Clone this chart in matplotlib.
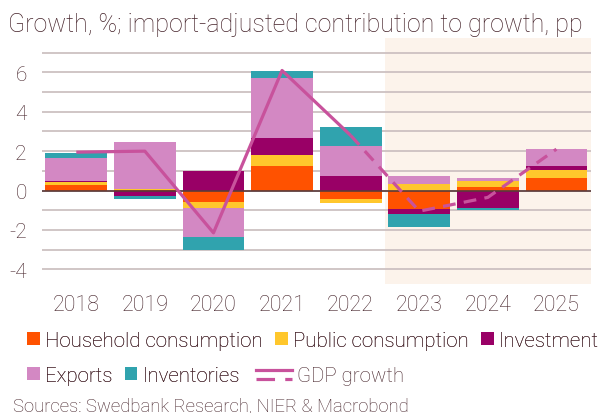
import matplotlib
matplotlib.use("Agg")
import matplotlib.pyplot as plt
import numpy as np
from matplotlib.patches import Patch
from matplotlib.lines import Line2D
from matplotlib.legend_handler import HandlerBase

plt.rcParams['font.family'] = ['Roboto', 'DejaVu Sans']
plt.rcParams['font.weight'] = 'light'

years = ['2018', '2019', '2020', '2021', '2022', '2023', '2024', '2025']
household = [0.30, 0.05, -0.60, 1.27, -0.42, -0.93, 0.20, 0.63]
public = [0.13, 0.03, -0.30, 0.56, -0.22, 0.34, 0.28, 0.39]
investment = [0.05, -0.30, 1.00, 0.84, 0.75, -0.27, -0.88, 0.22]
exports = [1.18, 2.37, -1.45, 3.03, 1.50, 0.42, 0.16, 0.88]
inventories = [0.25, -0.15, -0.68, 0.38, 1.00, -0.63, -0.13, 0.00]
gdp = [1.95, 2.0, -2.15, 6.1, 2.8, -1.05, -0.35, 2.1]

series = [
    ('Household consumption', household, '#FF5200'),
    ('Public consumption', public, '#FFC72C'),
    ('Investment', investment, '#990066'),
    ('Exports', exports, '#D388C3'),
    ('Inventories', inventories, '#30A3AE'),
]
gdp_color = '#C8529C'
txt = '#45232a'

fig = plt.figure(figsize=(6.0, 4.14), dpi=100)
ax = fig.add_axes([0.07, 0.3116, 0.9145, 0.5942])

x = np.arange(len(years))
ax.axvspan(4.5, 7.5, color='#FCF3EB', zorder=0, lw=0)
for v in range(-4, 8):
    ax.axhline(v, color='#CDC1C1', lw=1.3, zorder=1)

pos_base = np.zeros(len(years))
neg_base = np.zeros(len(years))
for name, vals, col in series:
    vals = np.array(vals)
    bottoms = np.where(vals >= 0, pos_base, neg_base)
    ax.bar(x, vals, width=0.9, bottom=bottoms, color=col, edgecolor='none', zorder=2)
    pos_base = pos_base + np.where(vals >= 0, vals, 0)
    neg_base = neg_base + np.where(vals < 0, vals, 0)

ax.axhline(0, color='#5a3a3a', lw=1.2, zorder=3)

ax.plot(x[:5], gdp[:5], color=gdp_color, lw=2.3, zorder=4, solid_capstyle='butt')
ax.plot(x[4:], gdp[4:], color=gdp_color, lw=2.3, zorder=4, dashes=(4, 2.6))

ax.set_xlim(-0.5, 7.5)
ax.set_ylim(-4.75, 7.75)
ax.set_yticks(range(-4, 7, 2))
ax.set_yticklabels([str(v) for v in range(-4, 7, 2)])
ax.set_xticks(x)
ax.set_xticklabels(years)
ax.tick_params(axis='both', length=0, labelcolor=txt)
ax.tick_params(axis='y', pad=11, labelsize=15)
ax.tick_params(axis='x', pad=7, labelsize=15.5)
for s in ax.spines.values():
    s.set_visible(False)

fig.text(0.013, 0.922, 'Growth, %; import-adjusted contribution to growth, pp',
         fontsize=18, color=txt, va='baseline', ha='left')
fig.text(0.021, 0.007, 'Sources: Swedbank Research, NIER & Macrobond',
         fontsize=13.3, color=txt, va='baseline', ha='left')


class GDPHandler(HandlerBase):
    def create_artists(self, legend, orig_handle, xdescent, ydescent, width, height, fontsize, trans):
        l1 = Line2D([-xdescent, width - xdescent], [height * 0.85, height * 0.85],
                    color=gdp_color, lw=2.3, transform=trans)
        l2 = Line2D([-xdescent, width - xdescent], [height * 0.15, height * 0.15],
                    color=gdp_color, lw=2.3, dashes=(5.8, 3.2), transform=trans)
        return [l1, l2]


def sq(col):
    return Patch(facecolor=col, edgecolor='none')

leg_kw = dict(frameon=False, fontsize=14.8, labelcolor=txt, handleheight=0.62,
              handletextpad=0.25, columnspacing=0.6, borderaxespad=0, borderpad=0)
h1 = [sq(series[i][2]) for i in range(3)]
l1 = [series[i][0] for i in range(3)]
leg1 = fig.legend(h1, l1, loc='center left', bbox_to_anchor=(0.045, 0.176),
                  ncol=3, handlelength=0.62, **leg_kw)
h2 = [sq(series[3][2]), sq(series[4][2])]
l2 = [series[3][0], series[4][0]]
leg2 = fig.legend(h2, l2, loc='center left', bbox_to_anchor=(0.045, 0.0906),
                  ncol=2, handlelength=0.62, **leg_kw)
gdp_handle = Line2D([], [], color=gdp_color)
leg3 = fig.legend([gdp_handle], ['GDP growth'], loc='center left',
                  bbox_to_anchor=(0.427, 0.0906), handlelength=1.75,
                  handler_map={Line2D: GDPHandler()}, **leg_kw)
fig.add_artist(leg1)
fig.add_artist(leg2)

fig.savefig('out.png', dpi=100)
